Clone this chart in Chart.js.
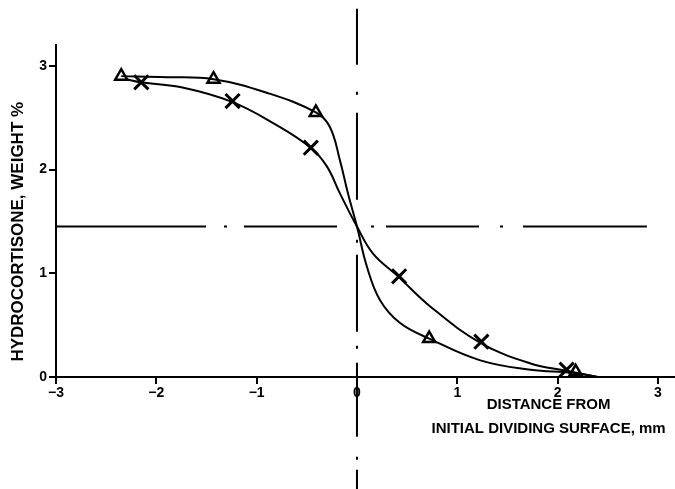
<!DOCTYPE html>
<html>
<head>
<meta charset="utf-8">
<script src="https://cdn.jsdelivr.net/npm/chart.js@4.4.0/dist/chart.umd.min.js"></script>
<style>
    html, body { margin: 0; padding: 0; background: #fff; overflow: hidden; }
    #wrap { width: 675px; height: 489px; position: relative; }
</style>
</head>
<body>
<div id="wrap"><canvas id="chart"></canvas></div>
<script>
const triX = [-2.35, -1.43, -0.41, 0.72, 2.18];
const triY = [2.90, 2.87, 2.55, 0.37, 0.05];
const crossX = [-2.15, -1.24, -0.46, 0.42, 1.24, 2.09];
const crossY = [2.84, 2.66, 2.21, 0.97, 0.34, 0.07];

// drawn curves
const triCurveX = [-2.35, -1.9, -1.43, -0.9, -0.41, -0.27, -0.17, -0.09, 0, 0.1, 0.23, 0.43, 0.72, 1.23, 1.73, 2.15, 2.4];
const triCurveY = [2.90, 2.89, 2.87, 2.74, 2.55, 2.41, 2.09, 1.77, 1.45, 1.06, 0.74, 0.52, 0.37, 0.16, 0.07, 0.04, 0.0];
const crossCurveX = [-2.3, -2.15, -1.74, -1.24, -0.84, -0.46, -0.3, -0.17, 0, 0.16, 0.41, 0.73, 1.23, 1.73, 2.09, 2.4];
const crossCurveY = [2.87, 2.84, 2.79, 2.65, 2.45, 2.21, 2.03, 1.77, 1.45, 1.19, 0.97, 0.68, 0.33, 0.13, 0.06, 0.0];

// dash-dot reference lines
const midLevel = 1.45;
const hLineX = [-3, 2.89];
const vLineY = [3.55, -1.1];

const xTicks = [-3, -2, -1, 0, 1, 2, 3];
const yTicks = [0, 1, 2, 3];

const FONT = "'Liberation Sans', Arial, sans-serif";

function pts(xs, ys) {
    return xs.map((x, i) => ({ x: x, y: ys[i] }));
}

function minus(v) {
    return v < 0 ? '\u2212' + Math.abs(v) : String(v);
}

// axis titles
const titlePlugin = {
    id: 'axisTitles',
    afterDraw(chart) {
        const ctx = chart.ctx;
        const cx = chart.scales.x.getPixelForValue(1.91);
        ctx.save();
        ctx.fillStyle = '#000';
        ctx.font = 'bold 15px ' + FONT;
        ctx.textAlign = 'center';
        ctx.textBaseline = 'middle';
        ctx.fillText('DISTANCE FROM', cx, 405);
        ctx.fillText('INITIAL DIVIDING SURFACE, mm', cx, 429);
        ctx.translate(18, chart.scales.y.getPixelForValue(1.4));
        ctx.rotate(-Math.PI / 2);
        ctx.font = 'bold 17px ' + FONT;
        ctx.fillText('HYDROCORTISONE, WEIGHT %', 0, 0);
        ctx.restore();
    }
};

document.addEventListener('DOMContentLoaded', function() {
    const ctx = document.getElementById('chart');
    new Chart(ctx, {
        type: 'scatter',
        data: {
            datasets: [
                {
                    label: 'h-ref',
                    type: 'line',
                    data: pts(hLineX, [midLevel, midLevel]),
                    borderColor: '#000',
                    borderWidth: 2,
                    borderDash: [150, 18, 3, 17, 93, 34, 3, 12, 93, 21, 3, 20, 130],
                    pointRadius: 0,
                    clip: false
                },
                {
                    label: 'v-ref',
                    type: 'line',
                    data: pts([0, 0], vLineY),
                    borderColor: '#000',
                    borderWidth: 2,
                    borderDash: [56, 27, 3, 18, 87, 40, 3, 12, 77, 14, 3, 14, 74, 20, 3, 10, 40],
                    pointRadius: 0,
                    clip: false
                },
                {
                    label: 'triangle curve',
                    type: 'line',
                    data: pts(triCurveX, triCurveY),
                    borderColor: '#000',
                    borderWidth: 2,
                    tension: 0.4,
                    pointRadius: 0,
                    clip: false
                },
                {
                    label: 'cross curve',
                    type: 'line',
                    data: pts(crossCurveX, crossCurveY),
                    borderColor: '#000',
                    borderWidth: 2,
                    tension: 0.4,
                    pointRadius: 0,
                    clip: false
                },
                {
                    label: 'triangles',
                    data: pts(triX, triY),
                    pointStyle: 'triangle',
                    pointRadius: 7,
                    borderColor: '#000',
                    backgroundColor: '#fff',
                    borderWidth: 2.5,
                    clip: false
                },
                {
                    label: 'crosses',
                    data: pts(crossX, crossY),
                    pointStyle: 'crossRot',
                    pointRadius: 10,
                    borderColor: '#000',
                    borderWidth: 3,
                    clip: false
                }
            ]
        },
        options: {
            responsive: true,
            maintainAspectRatio: false,
            animation: false,
            layout: { autoPadding: false, padding: { top: 45, right: 0, left: 0, bottom: 0 } },
            plugins: {
                legend: { display: false },
                tooltip: { enabled: false }
            },
            scales: {
                x: {
                    type: 'linear',
                    min: -3,
                    max: 3.17,
                    afterFit(scale) {
                        scale.height = 112;
                        scale.paddingLeft = 0;
                        scale.paddingRight = 0;
                    },
                    afterBuildTicks(scale) { scale.ticks = xTicks.map(v => ({ value: v })); },
                    border: { display: true, color: '#000', width: 2 },
                    grid: { drawOnChartArea: false, drawTicks: true, tickLength: 7, color: '#000', lineWidth: 2 },
                    ticks: {
                        color: '#000',
                        padding: 1,
                        maxRotation: 0,
                        font: { family: FONT, size: 14, weight: 'bold' },
                        callback: v => minus(v)
                    }
                },
                y: {
                    type: 'linear',
                    min: 0,
                    max: 3.2,
                    afterFit(scale) { scale.width = 56; },
                    afterBuildTicks(scale) { scale.ticks = yTicks.map(v => ({ value: v })); },
                    border: { display: true, color: '#000', width: 2 },
                    grid: { drawOnChartArea: false, drawTicks: true, tickLength: 7, color: '#000', lineWidth: 2 },
                    ticks: {
                        color: '#000',
                        padding: 2,
                        font: { family: FONT, size: 14, weight: 'bold' },
                        callback: v => minus(v)
                    }
                }
            }
        },
        plugins: [titlePlugin]
    });
});
</script>
</body>
</html>
